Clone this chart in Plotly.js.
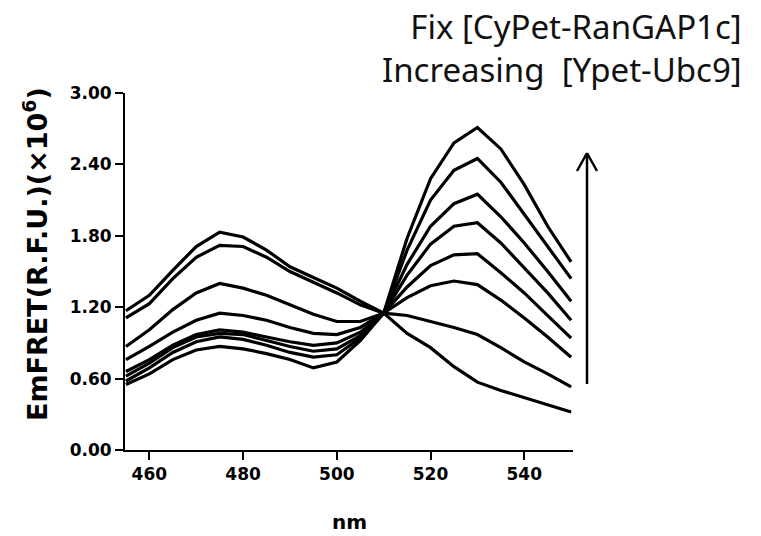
<!DOCTYPE html>
<html>
<head>
<meta charset="utf-8">
<script src="https://cdn.plot.ly/plotly-3.0.1.min.js"></script>
<style>
  html, body { margin: 0; padding: 0; background: #ffffff; }
  #chart { width: 761px; height: 536px; }
</style>
</head>
<body>
<div id="chart"></div>
<script>
// Emission wavelength (nm)
const wavelength = [455, 460, 465, 470, 475, 480, 485, 490, 495, 500,
                    505, 510, 515, 520, 525, 530, 535, 540, 545, 550];

// EmFRET spectra (x10^6 R.F.U.), one per [Ypet-Ubc9] level
const spectrum1 = [0.55, 0.64, 0.76, 0.84, 0.87, 0.85, 0.81, 0.76, 0.69, 0.74, 0.92, 1.15, 1.78, 2.28, 2.58, 2.71, 2.53, 2.23, 1.88, 1.58];
const spectrum2 = [0.58, 0.69, 0.82, 0.91, 0.95, 0.93, 0.88, 0.82, 0.78, 0.80, 0.94, 1.15, 1.68, 2.10, 2.35, 2.45, 2.25, 1.98, 1.72, 1.44];
const spectrum3 = [0.62, 0.73, 0.86, 0.95, 0.98, 0.97, 0.92, 0.87, 0.83, 0.85, 0.96, 1.15, 1.56, 1.88, 2.07, 2.15, 1.96, 1.74, 1.50, 1.25];
const spectrum4 = [0.66, 0.76, 0.88, 0.97, 1.01, 0.99, 0.95, 0.91, 0.88, 0.90, 0.99, 1.15, 1.47, 1.73, 1.88, 1.91, 1.74, 1.53, 1.32, 1.09];
const spectrum5 = [0.76, 0.87, 0.99, 1.09, 1.15, 1.13, 1.09, 1.03, 0.98, 0.97, 1.03, 1.15, 1.37, 1.55, 1.64, 1.65, 1.49, 1.32, 1.13, 0.94];
const spectrum6 = [0.87, 1.01, 1.18, 1.32, 1.40, 1.36, 1.30, 1.22, 1.14, 1.08, 1.08, 1.15, 1.28, 1.38, 1.42, 1.39, 1.26, 1.11, 0.95, 0.78];
const spectrum7 = [1.11, 1.23, 1.44, 1.62, 1.72, 1.71, 1.62, 1.50, 1.41, 1.32, 1.22, 1.15, 1.13, 1.08, 1.03, 0.97, 0.86, 0.74, 0.64, 0.53];
const spectrum8 = [1.17, 1.30, 1.51, 1.71, 1.83, 1.79, 1.68, 1.54, 1.45, 1.36, 1.25, 1.15, 0.98, 0.86, 0.70, 0.57, 0.50, 0.44, 0.38, 0.32];

const spectra = [spectrum1, spectrum2, spectrum3, spectrum4,
                 spectrum5, spectrum6, spectrum7, spectrum8];

const xTicks = [460, 480, 500, 520, 540];
const yTicks = [0, 0.6, 1.2, 1.8, 2.4, 3.0];

const traces = spectra.map(s => ({
  x: wavelength,
  y: s,
  type: 'scatter',
  mode: 'lines',
  line: { color: '#000000', width: 3.2, shape: 'linear' },
  hoverinfo: 'skip',
  showlegend: false
}));

const boldFont = { family: 'DejaVu Sans, Arial, sans-serif', color: '#000000', weight: 'bold' };

// plot area in pixels: x 125..573, y 93..450
const px = v => (v - 125) / 448;
const py = v => (450 - v) / 357;

const layout = {
  width: 761,
  height: 536,
  paper_bgcolor: '#ffffff',
  plot_bgcolor: '#ffffff',
  margin: { l: 125, r: 188, t: 93, b: 86 },
  showlegend: false,
  xaxis: {
    range: [454.8, 550.4],
    tickvals: xTicks,
    ticktext: xTicks.map(String),
    ticks: 'outside',
    ticklen: 8,
    tickwidth: 2,
    tickcolor: '#000000',
    showline: true,
    linecolor: '#000000',
    linewidth: 2,
    showgrid: false,
    zeroline: false,
    tickfont: Object.assign({ size: 17 }, boldFont)
  },
  yaxis: {
    range: [0, 3],
    tickvals: yTicks,
    tickformat: '.2f',
    ticks: 'outside',
    ticklen: 8,
    tickwidth: 2,
    tickcolor: '#000000',
    showline: true,
    linecolor: '#000000',
    linewidth: 2,
    showgrid: false,
    zeroline: false,
    tickfont: Object.assign({ size: 17 }, boldFont)
  },
  annotations: [
    {
      text: 'EmFRET(R.F.U.)(×10<sup>6</sup>)',
      textangle: -90,
      xref: 'paper', yref: 'paper',
      x: px(36), y: py(254),
      xanchor: 'center', yanchor: 'middle',
      showarrow: false,
      font: Object.assign({ size: 27 }, boldFont)
    },
    {
      text: 'nm',
      xref: 'paper', yref: 'paper',
      x: 0.5, y: py(522),
      xanchor: 'center', yanchor: 'middle',
      showarrow: false,
      font: Object.assign({ size: 20 }, boldFont)
    },
    {
      text: 'Fix [CyPet-RanGAP1c]<br>Increasing  [Ypet-Ubc9]',
      xref: 'paper', yref: 'paper',
      x: px(744), y: py(48),
      xanchor: 'right', yanchor: 'middle',
      align: 'right',
      showarrow: false,
      font: { family: 'Noto Sans, Open Sans, sans-serif', size: 33, color: '#111111' }
    }
  ],
  // upward arrow beside the acceptor peak
  shapes: [
    { type: 'line', xref: 'paper', yref: 'paper',
      x0: px(587), x1: px(587), y0: py(384), y1: py(154),
      line: { color: '#000000', width: 2.5 } },
    { type: 'line', xref: 'paper', yref: 'paper',
      x0: px(577), x1: px(587), y0: py(171), y1: py(153),
      line: { color: '#000000', width: 2.5 } },
    { type: 'line', xref: 'paper', yref: 'paper',
      x0: px(597), x1: px(587), y0: py(171), y1: py(153),
      line: { color: '#000000', width: 2.5 } }
  ]
};

Plotly.newPlot('chart', traces, layout, { displayModeBar: false, staticPlot: true });
</script>
</body>
</html>
